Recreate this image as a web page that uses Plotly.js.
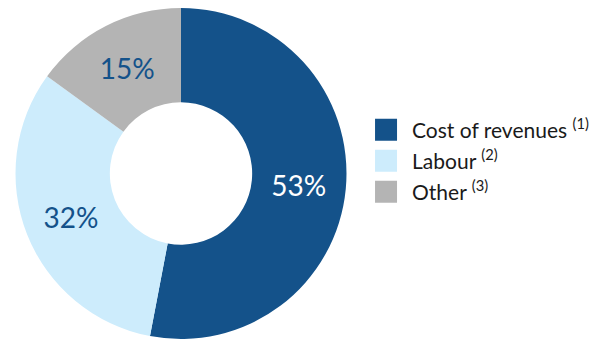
<!DOCTYPE html>
<html>
<head>
<meta charset="utf-8">
<script src="https://cdn.plot.ly/plotly-3.0.1.min.js"></script>
<style>html,body{margin:0;padding:0;background:#fff;}#chart{width:602px;height:351px;}</style>
</head>
<body>
<div id="chart"></div>
<script>
const categories = ["Cost of revenues <sup>(1)</sup>", "Labour <sup>(2)</sup>", "Other <sup>(3)</sup>"];
const values = [53, 32, 15];
const sliceColors = ["#14528a", "#cdecfc", "#b4b4b4"];
const textColors = ["#ffffff", "#14528a", "#14528a"];

const trace = {
  type: "pie",
  labels: categories,
  values: values,
  hole: 0.43,
  sort: false,
  direction: "clockwise",
  rotation: 0,
  marker: {colors: sliceColors, line: {width: 0}},
  texttemplate: "%{value}%",
  textposition: "inside",
  insidetextorientation: "horizontal",
  insidetextfont: {family: "Lato, sans-serif", size: 28, color: textColors},
  hoverinfo: "none",
  domain: {x: [15/602, 347/602], y: [12/351, 343/351]}
};

const layout = {
  width: 602, height: 351,
  margin: {l: 0, r: 0, t: 0, b: 0},
  paper_bgcolor: "#ffffff",
  showlegend: true,
  legend: {
    x: 0.618, y: 0.544, xanchor: "left", yanchor: "middle",
    font: {family: "Lato, sans-serif", size: 21, color: "#1a1a1a"},
    itemclick: false
  }
};

Plotly.newPlot("chart", [trace], layout, {displayModeBar: false, staticPlot: true}).then(() => {
  document.querySelectorAll(".legendpoints path").forEach(p => {
    p.setAttribute("d", "M-11,-11H11V11H-11Z");
    p.setAttribute("transform", "translate(14,0)");
    p.style.strokeWidth = "0";
  });
  const items = document.querySelectorAll(".legend .traces");
  let baseY = null;
  items.forEach((g, i) => {
    const t = g.getAttribute("transform") || "";
    const m = t.match(/translate\(\s*([-\d.]+)[ ,]+([-\d.]+)\s*\)/);
    if (!m) return;
    const x = parseFloat(m[1]);
    const y = parseFloat(m[2]);
    if (baseY === null) baseY = y;
    g.setAttribute("transform", "translate(" + x + "," + (baseY + i * 31) + ")");
  });
});
</script>
</body>
</html>
